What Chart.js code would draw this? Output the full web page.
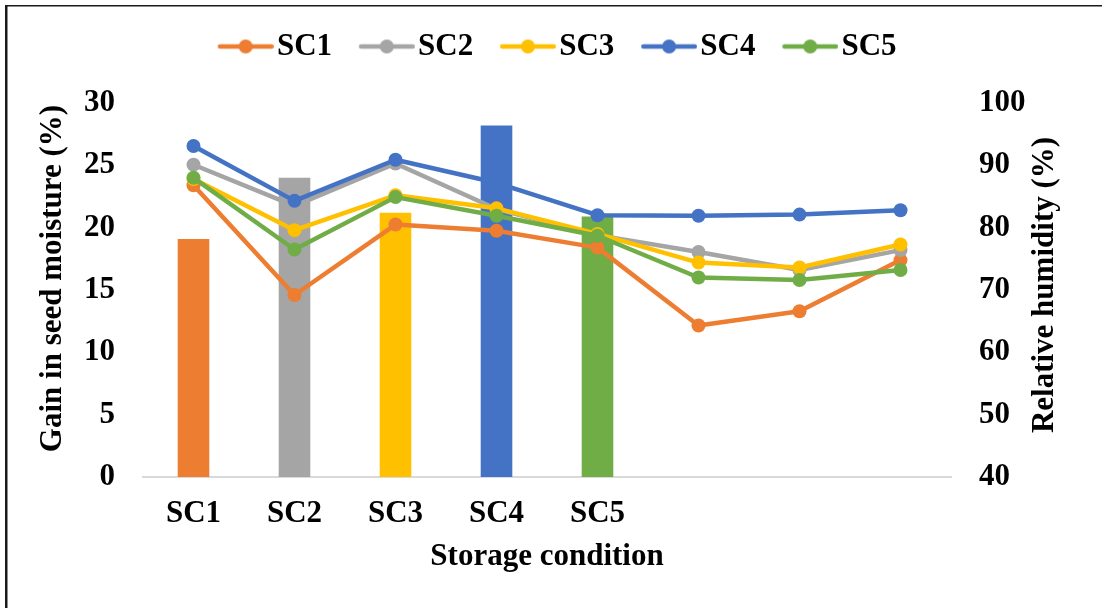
<!DOCTYPE html>
<html>
<head>
<meta charset="utf-8">
<script src="https://cdn.jsdelivr.net/npm/chart.js@4"></script>
<style>
  html, body { margin: 0; padding: 0; background: #ffffff; }
  canvas { display: block; }
</style>
</head>
<body>
<canvas id="chart" width="1102" height="608"></canvas>
<script>
// Categories along the x axis (the last three slots carry only the line series)
const categories = ['SC1', 'SC2', 'SC3', 'SC4', 'SC5', '', '', ''];

// Bars: gain in seed moisture (%) for each storage condition
const moistureGain = [19.1, 24.0, 21.2, 28.2, 20.9, null, null, null];

// Lines: relative humidity (%) recorded under each storage condition
const rhSC1 = [86.8, 69.2, 80.5, 79.5, 76.8, 64.3, 66.6, 74.8];
const rhSC2 = [90.1, 83.5, 90.3, 83.0, 78.8, 76.1, 73.2, 76.4];
const rhSC3 = [87.8, 79.6, 85.2, 83.1, 79.0, 74.4, 73.6, 77.3];
const rhSC4 = [93.1, 84.3, 90.9, 87.2, 82.0, 81.9, 82.1, 82.8];
const rhSC5 = [88.0, 76.5, 84.9, 81.9, 78.7, 72.0, 71.6, 73.2];

const seriesNames = ['SC1', 'SC2', 'SC3', 'SC4', 'SC5'];
const seriesColors = ['#ED7D31', '#A5A5A5', '#FFC000', '#4472C4', '#70AD47'];
const rhSeries = [rhSC1, rhSC2, rhSC3, rhSC4, rhSC5];

// Axis ranges and tick steps
const gainRange = [0, 30];
const gainStep = 5;
const rhRange = [40, 100];
const rhStep = 10;

// Axis titles
const xTitle = 'Storage condition';
const leftTitle = 'Gain in seed moisture (%)';
const rightTitle = 'Relative humidity (%)';

const FAMILY = "'Liberation Serif', 'Times New Roman', serif";
const FONT_SIZE = 31;
const boldFont = { family: FAMILY, size: FONT_SIZE, weight: 'bold' };

// Legend symbol: a short line with a dot in the middle
function makeLegendIcon(color) {
  const c = document.createElement('canvas');
  c.width = 64;
  c.height = 16;
  const g = c.getContext('2d');
  g.strokeStyle = color;
  g.lineWidth = 4.5;
  g.lineCap = 'round';
  g.beginPath();
  g.moveTo(10.25, 8);
  g.lineTo(61.75, 8);
  g.stroke();
  g.fillStyle = color;
  g.beginPath();
  g.arc(36, 8, 7, 0, Math.PI * 2);
  g.fill();
  return c;
}
const legendIcons = seriesColors.map(makeLegendIcon);

const barDataset = {
  type: 'bar',
  label: 'Gain in seed moisture',
  data: moistureGain,
  yAxisID: 'y',
  backgroundColor: seriesColors.concat(['#000', '#000', '#000']),
  borderWidth: 0,
  categoryPercentage: 1.0,
  barPercentage: 0.313,
  order: 10
};

const lineDatasets = rhSeries.map((values, i) => ({
  type: 'line',
  label: seriesNames[i],
  data: values,
  yAxisID: 'y1',
  borderColor: seriesColors[i],
  backgroundColor: seriesColors[i],
  borderWidth: 4.5,
  borderJoinStyle: 'round',
  borderCapStyle: 'round',
  tension: 0,
  fill: false,
  pointStyle: 'circle',
  pointRadius: 7,
  pointHoverRadius: 7,
  pointBorderWidth: 0,
  pointBackgroundColor: seriesColors[i],
  order: 5 - i
}));

// Gives the legend row a fixed band above the plot area
const legendBand = {
  id: 'legendBand',
  beforeUpdate(chart) {
    const lg = chart.legend;
    if (lg && !lg._banded) {
      const fit = lg.fit;
      lg.fit = function () {
        fit.call(this);
        this.height = 103;
      };
      lg._banded = true;
    }
  }
};

// Vertical axis titles (both read bottom to top) and the frame lines
const decorations = {
  id: 'decorations',
  afterDraw(chart) {
    const ctx = chart.ctx;
    const yl = chart.scales.y;
    const yr = chart.scales.y1;
    const mid = (yl.top + yl.bottom) / 2;
    ctx.save();
    ctx.fillStyle = '#000000';
    ctx.font = 'bold ' + FONT_SIZE + 'px ' + FAMILY;
    ctx.textAlign = 'center';
    ctx.textBaseline = 'middle';

    ctx.save();
    ctx.translate(yl.left + 36.5, mid - 11.5);
    ctx.rotate(-Math.PI / 2);
    ctx.fillText(leftTitle, 0, 0);
    ctx.restore();

    ctx.save();
    ctx.translate(yr.right - 57, mid - 5);
    ctx.rotate(-Math.PI / 2);
    ctx.fillText(rightTitle, 0, 0);
    ctx.restore();

    ctx.fillStyle = '#1a1a1a';
    ctx.fillRect(5, 5, chart.width - 5, 1.5);
    ctx.fillRect(5, 5, 2.5, chart.height - 5);
    ctx.restore();
  }
};

new Chart(document.getElementById('chart'), {
  data: {
    labels: categories,
    datasets: [barDataset].concat(lineDatasets)
  },
  options: {
    responsive: false,
    animation: false,
    devicePixelRatio: 1,
    layout: { padding: { left: 16.5, right: 0, top: 0, bottom: 0 } },
    plugins: {
      tooltip: { enabled: false },
      title: { display: false },
      legend: {
        display: true,
        position: 'top',
        align: 'center',
        labels: {
          usePointStyle: true,
          pointStyleWidth: 39.5,
          padding: 31,
          color: '#000000',
          font: boldFont,
          filter: (item) => item.datasetIndex > 0,
          sort: (a, b) => a.datasetIndex - b.datasetIndex,
          generateLabels(chart) {
            const items = Chart.defaults.plugins.legend.labels.generateLabels(chart);
            items.forEach((item) => {
              if (item.datasetIndex > 0) {
                item.pointStyle = legendIcons[item.datasetIndex - 1];
              }
            });
            return items;
          }
        }
      }
    },
    scales: {
      x: {
        type: 'category',
        offset: true,
        grid: { display: false, drawTicks: false },
        border: { display: true, color: '#D9D9D9', width: 2 },
        ticks: {
          color: '#000000',
          font: boldFont,
          padding: 18,
          maxRotation: 0,
          autoSkip: false
        },
        title: {
          display: true,
          text: xTitle,
          color: '#000000',
          font: boldFont,
          padding: { top: 0, bottom: 32 }
        },
        afterFit(scale) { scale.height = 131; }
      },
      y: {
        type: 'linear',
        position: 'left',
        min: gainRange[0],
        max: gainRange[1],
        grid: { display: false, drawTicks: false },
        border: { display: false },
        ticks: {
          stepSize: gainStep,
          color: '#000000',
          font: boldFont,
          padding: 28
        },
        afterFit(scale) { scale.width = 126.5; }
      },
      y1: {
        type: 'linear',
        position: 'right',
        min: rhRange[0],
        max: rhRange[1],
        grid: { display: false, drawTicks: false },
        border: { display: false },
        ticks: {
          stepSize: rhStep,
          color: '#000000',
          font: boldFont,
          padding: 28
        },
        afterFit(scale) { scale.width = 151; }
      }
    }
  },
  plugins: [legendBand, decorations]
});
</script>
</body>
</html>
